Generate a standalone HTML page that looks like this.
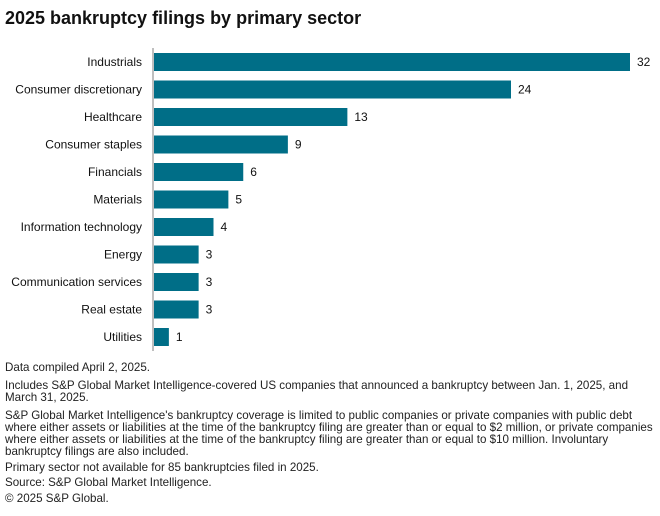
<!DOCTYPE html>
<html><head><meta charset="utf-8"><style>
body{margin:0;width:660px;height:516px;background:#fff;font-family:"Liberation Sans",sans-serif;position:relative;overflow:hidden;color:#111}
.t{position:absolute;left:5px;top:8px;font-size:18px;font-weight:bold;margin:0}
.f{position:absolute;left:5px;font-size:11.6px;line-height:12px;white-space:nowrap;color:#222}
</style></head><body>
<h1 class="t">2025 bankruptcy filings by primary sector</h1>
<svg id="c" width="660" height="360" style="position:absolute;left:0;top:0"></svg>
<div class="f" style="top:362px">Data compiled April 2, 2025.</div>
<div class="f" style="top:380px">Includes S&amp;P Global Market Intelligence-covered US companies that announced a bankruptcy between Jan. 1, 2025, and<br>March 31, 2025.</div>
<div class="f" style="top:410px">S&amp;P Global Market Intelligence's bankruptcy coverage is limited to public companies or private companies with public debt<br>where either assets or liabilities at the time of the bankruptcy filing are greater than or equal to $2 million, or private companies<br>where either assets or liabilities at the time of the bankruptcy filing are greater than or equal to $10 million. Involuntary<br>bankruptcy filings are also included.</div>
<div class="f" style="top:462px">Primary sector not available for 85 bankruptcies filed in 2025.</div>
<div class="f" style="top:477px">Source: S&amp;P Global Market Intelligence.</div>
<div class="f" style="top:493px">© 2025 S&amp;P Global.</div>
<script>
const categories=["Industrials","Consumer discretionary","Healthcare","Consumer staples","Financials","Materials","Information technology","Energy","Communication services","Real estate","Utilities"];
const values=[32,24,13,9,6,5,4,3,3,3,1];
const svg=document.getElementById('c');
const NS='http://www.w3.org/2000/svg';
const x0=154,scale=(630-154)/32;
const y=i=>62+i*27.5;
const xs=v=>x0+v*scale;
function mk(t,a){const e=document.createElementNS(NS,t);for(const k in a)e.setAttribute(k,a[k]);svg.appendChild(e);return e;}
categories.forEach((c,i)=>{
  const r=mk('rect',{x:x0,y:y(i)-9,width:xs(values[i])-x0,height:18,fill:'#006e87'});
  
  
  const l=mk('text',{x:142,y:y(i)+4,'text-anchor':'end','font-size':'12','fill':'#111'});
  l.textContent=c;
  
  
  const v=mk('text',{x:xs(values[i])+7,y:y(i)+4,'font-size':'12','fill':'#111'});
  v.textContent=values[i];
  
  
});
const ax=mk('line',{x1:153,x2:153,y1:48,y2:351,stroke:'#aaa','stroke-width':1.5});


</script>
</body></html>
